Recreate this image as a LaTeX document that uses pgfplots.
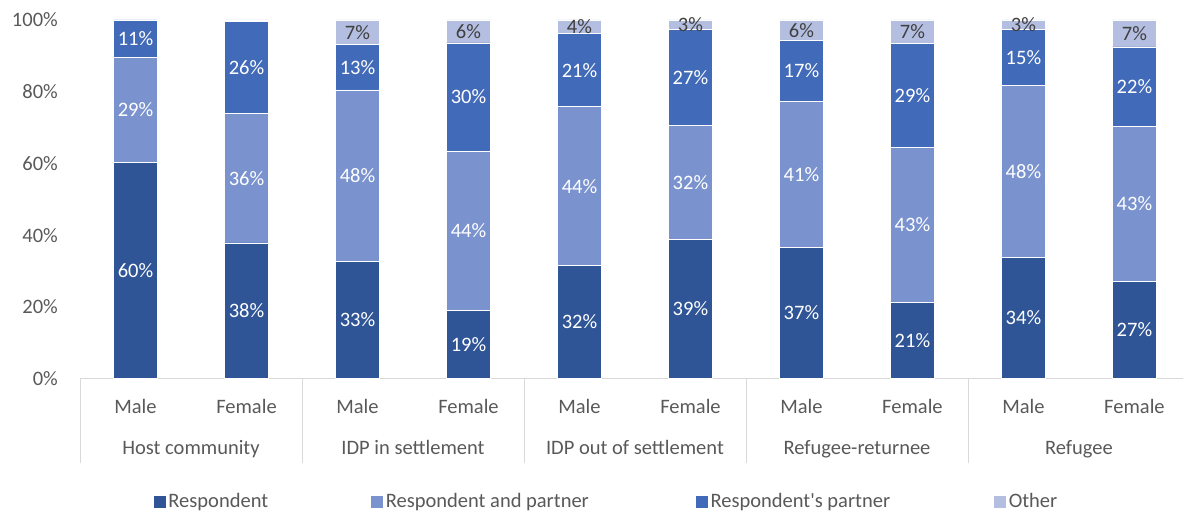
\documentclass[border=0pt]{standalone}
\usepackage{pgfplots}
\pgfplotsset{compat=1.18}
\usepackage{fontspec}
\setmainfont{Carlito}[Ligatures=TeXOff]
\definecolor{cResp}{RGB}{47,85,151}
\definecolor{cRP}{RGB}{122,147,207}
\definecolor{cPart}{RGB}{65,106,185}
\definecolor{cOther}{RGB}{180,190,225}
\definecolor{txt}{RGB}{89,89,89}
\definecolor{axgray}{RGB}{217,217,217}
\definecolor{lbldark}{RGB}{64,64,64}
\begin{document}
\begin{tikzpicture}[font=\fontsize{20.5}{24}\selectfont]
\begin{axis}[
  at={(80pt,133.5pt)}, anchor=south west,
  scale only axis, width=1110pt, height=358.5pt,
  ybar stacked, bar width=44pt,
  xmin=-0.5, xmax=9.5, ymin=0, ymax=100,
  clip=false,
  axis x line*=bottom, axis y line*=left,
  y axis line style={draw=none},
  x axis line style={draw=axgray, line width=0.8pt},
  tick pos=lower,
  xtick={0,...,9},
  xticklabels={Male,Female,Male,Female,Male,Female,Male,Female,Male,Female},
  ytick={0,20,...,100},
  yticklabel={\pgfmathprintnumber{\tick}\%},
  /pgf/number format/assume math mode=true,
  major tick length=0pt,
  xticklabel style={anchor=base, yshift=-34.5pt, text=txt},
  yticklabel style={anchor=east, inner sep=0pt, xshift=-22pt, text=txt},
  extra x ticks={-0.5,1.5,3.5,5.5,7.5,9.5},
  extra x tick labels={},
  extra x tick style={major tick length=84pt, tick align=outside,
     tick style={draw=axgray, line width=0.8pt}},
  point meta=explicit symbolic,
  nodes near coords,
  every node near coord/.append style={anchor=center, text=white},
  legend columns=4,
  legend style={draw=none, at={(0.474,-0.343)}, anchor=center,
     text=txt, nodes={inner sep=2pt},
     /tikz/column 2/.style={column sep=100pt},
     /tikz/column 4/.style={column sep=104pt},
     /tikz/column 6/.style={column sep=101pt}},
  legend image code/.code={\fill[#1] (0pt,-6.5pt) rectangle (13pt,6.5pt);},
]
\addplot[fill=cResp, draw=white, line width=0.6pt] coordinates {
 (0,60.3) [60\%] (1,37.8) [38\%] (2,32.6) [33\%] (3,19.0) [19\%] (4,31.5) [32\%]
 (5,38.8) [39\%] (6,36.6) [37\%] (7,21.2) [21\%] (8,33.8) [34\%] (9,27.1) [27\%]};
\addplot[fill=cRP, draw=white, line width=0.6pt] coordinates {
 (0,29.2) [29\%] (1,36.2) [36\%] (2,47.9) [48\%] (3,44.4) [44\%] (4,44.3) [44\%]
 (5,31.9) [32\%] (6,40.8) [41\%] (7,43.3) [43\%] (8,48.0) [48\%] (9,43.3) [43\%]};
\addplot[fill=cPart, draw=white, line width=0.6pt] coordinates {
 (0,10.5) [11\%] (1,25.6) [26\%] (2,12.7) [13\%] (3,30.2) [30\%] (4,20.4) [21\%]
 (5,26.6) [27\%] (6,16.8) [17\%] (7,28.9) [29\%] (8,15.5) [15\%] (9,22.1) [22\%]};
\addplot[fill=cOther, draw=white, line width=0.6pt,
  every node near coord/.append style={text=lbldark}] coordinates {
 (0,0) [{}] (1,0.4) [{}] (2,6.8) [7\%] (3,6.4) [6\%] (4,3.8) [4\%]
 (5,2.7) [3\%] (6,5.8) [6\%] (7,6.6) [7\%] (8,2.7) [3\%] (9,7.5) [7\%]};
\legend{Respondent, Respondent and partner, Respondent's partner, Other}
\node[anchor=base, text=txt] at (axis cs:0.5,0) [yshift=-75.5pt] {Host community};
\node[anchor=base, text=txt] at (axis cs:2.5,0) [yshift=-75.5pt] {IDP in settlement};
\node[anchor=base, text=txt] at (axis cs:4.5,0) [yshift=-75.5pt] {IDP out of settlement};
\node[anchor=base, text=txt] at (axis cs:6.5,0) [yshift=-75.5pt] {Refugee-returnee};
\node[anchor=base, text=txt] at (axis cs:8.5,0) [yshift=-75.5pt] {Refugee};
\end{axis}
\pgfresetboundingbox
\useasboundingbox (0pt,0pt) rectangle (1183pt,512pt);
\end{tikzpicture}
\end{document}
